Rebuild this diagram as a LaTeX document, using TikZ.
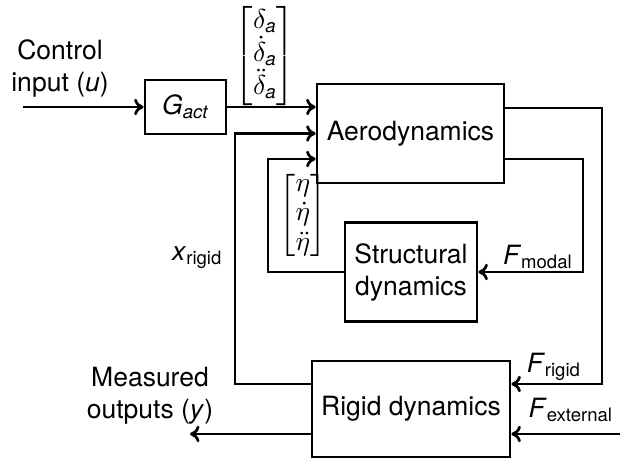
\documentclass[tikz,border=0pt]{standalone}
\usepackage{amsmath}
\usepackage{fontspec}
\setmainfont{TeX Gyre Heros}
\usetikzlibrary{arrows.meta}

\begin{document}
\begin{tikzpicture}[x=0.4pt,y=-0.4pt,
    font=\fontsize{10.6}{12.8}\selectfont,
    line width=1.1pt,
    block/.style={draw, inner sep=0pt, align=center},
    sig/.style={-{To[length=3.8pt,width=6.6pt]}},
    lbl/.style={inner sep=0pt, align=center},
    vec/.style={inner sep=0pt, execute at begin node={\renewcommand{\arraystretch}{#1}}}]
  \useasboundingbox (0,0) rectangle (620,459);

  % blocks
  \node[block, minimum width=32.4pt, minimum height=21.6pt] (Gact) at (185.5,107)
    {\textit{G}$_{\textit{act}}$};
  \node[block, minimum width=74.8pt, minimum height=39.6pt] (Aero) at (410.5,133.5)
    {Aerodynamics};
  \node[block, minimum width=52.8pt, minimum height=39.6pt] (Struct) at (411,272)
    {Structural\\dynamics};
  \node[block, minimum width=79.2pt, minimum height=38.4pt] (Rigid) at (411,409)
    {Rigid dynamics};

  % ports on the block edges
  \coordinate (AeroInHi)  at ([yshift=10.2pt]Aero.west);
  \coordinate (AeroInLo)  at ([yshift=-10.2pt]Aero.west);
  \coordinate (AeroOutHi) at ([yshift=10.2pt]Aero.east);
  \coordinate (AeroOutLo) at ([yshift=-10.2pt]Aero.east);
  \coordinate (RigidInHi)  at ([yshift=10pt]Rigid.east);
  \coordinate (RigidInLo)  at ([yshift=-10pt]Rigid.east);
  \coordinate (RigidOutHi) at ([yshift=10pt]Rigid.west);
  \coordinate (RigidOutLo) at ([yshift=-10pt]Rigid.west);

  % signal rails and free ends
  \coordinate (railL1) at (235,0);
  \coordinate (railL2) at (268,0);
  \coordinate (railR1) at (583,0);
  \coordinate (railR2) at (602,0);
  \coordinate (uIn)  at (23,107);
  \coordinate (yOut) at (190,0);
  \coordinate (fExt) at (620,0);

  % connectors
  \draw[sig] (uIn) -- (Gact.west);
  \draw[sig] (Gact.east) -- (Gact.east -| Aero.west);
  \draw[sig] (AeroOutHi) -| (railR2 |- RigidInHi) -- (RigidInHi);
  \draw[sig] (AeroOutLo) -| (railR1 |- Struct.east) -- (Struct.east);
  \draw[sig] (Struct.west) -| (railL2 |- AeroInLo) -- (AeroInLo);
  \draw[sig] (RigidOutHi) -| (railL1 |- Aero.west) -- (Aero.west);
  \draw[sig] (RigidOutLo) -- (yOut |- RigidOutLo);
  \draw[sig] (fExt |- RigidInLo) -- (RigidInLo);

  % signal labels
  \node[lbl] (uLbl) at (60,68) {Control\\input (\textit{u})};
  \node[lbl] (yLbl) at (150,396) {Measured\\outputs (\textit{y})};
  \node[vec=0.78] (dLbl) at (265,56)
    {$\begin{bmatrix}\delta_{\textit{a}}\\ \dot\delta_{\textit{a}}\\ \ddot\delta_{\textit{a}}\end{bmatrix}$};
  \node[vec=0.92] (eLbl) at (303,215)
    {$\begin{bmatrix}\eta\\ \dot\eta\\ \ddot\eta\end{bmatrix}$};
  \node[lbl, anchor=east] (xLbl) at (224,258) {\textit{x}$_{\text{rigid}}$};
  \node[lbl] (fmLbl) at (538,257) {\textit{F}$_{\text{modal}}$};
  \node[lbl] (frLbl) at (554,367) {\textit{F}$_{\text{rigid}}$};
  \node[lbl] (feLbl) at (571,410) {\textit{F}$_{\text{external}}$};
\end{tikzpicture}
\end{document}
